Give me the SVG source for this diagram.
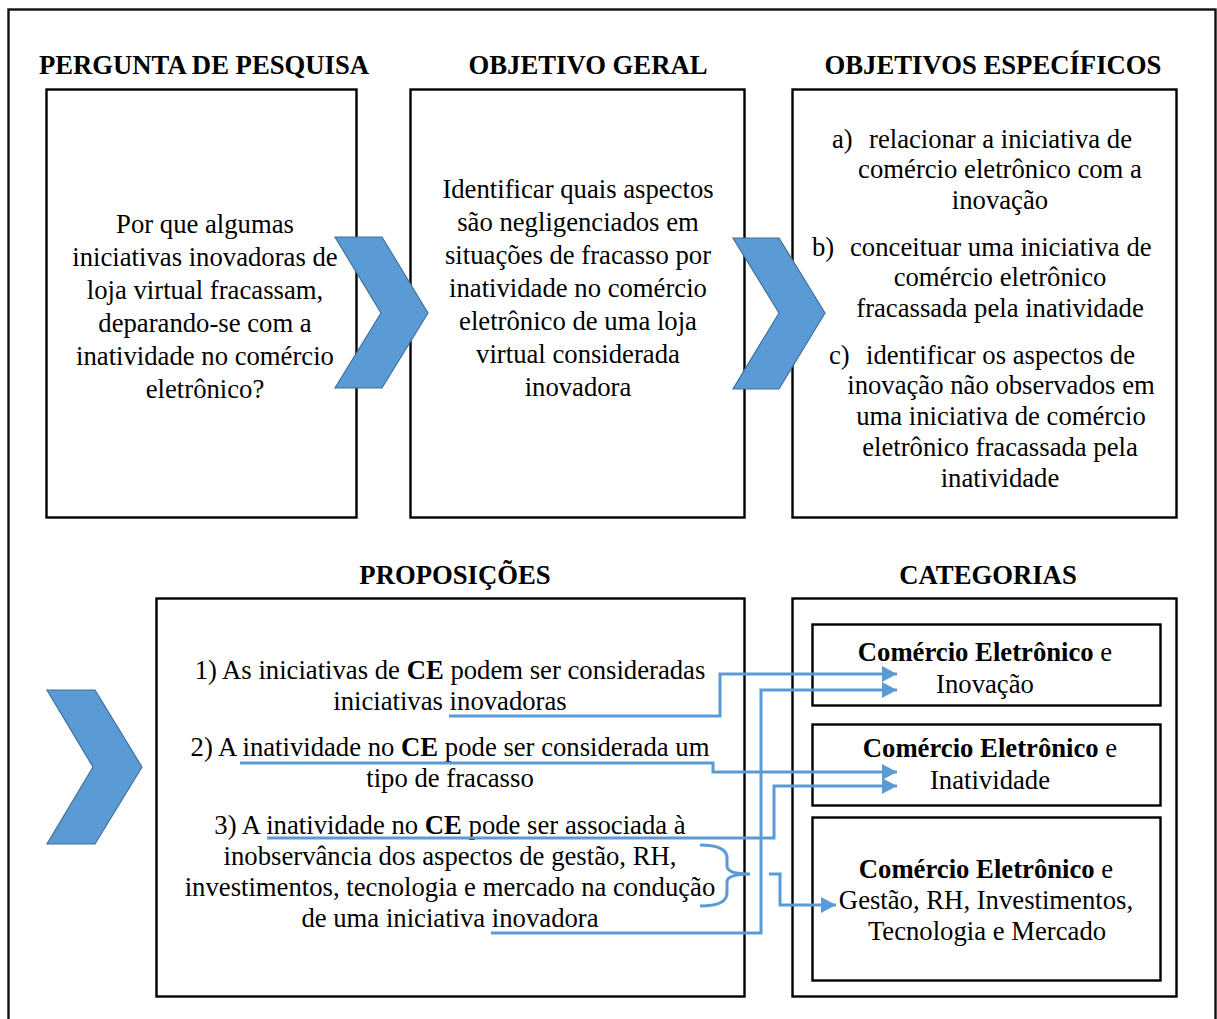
<svg xmlns="http://www.w3.org/2000/svg" width="1217" height="1019" viewBox="0 0 1217 1019">
<defs>
<style>
.box{fill:#fff;stroke:#000;stroke-width:2.4}
.outer{fill:#fff;stroke:#111;stroke-width:2.4}
.t{font-family:"Liberation Serif","Times New Roman",serif;font-size:26.7px;fill:#000}
.c{text-anchor:middle}
.h{font-weight:bold}
.chev{fill:#5B9BD5;stroke:#41719C;stroke-width:1.2}
.con{fill:none;stroke:#5B9BD5;stroke-width:3}
</style>
<marker id="ah" markerUnits="userSpaceOnUse" markerWidth="16" markerHeight="18" refX="15" refY="9" orient="auto">
<path d="M0,1 L15,9 L0,17 Z" fill="#5B9BD5"/>
</marker>
</defs>
<rect class="outer" x="8.5" y="9.5" width="1207" height="1030"/>

<g id="titles">
<text class="t c h" x="204" y="74">PERGUNTA DE PESQUISA</text>
<text class="t c h" x="588" y="74">OBJETIVO GERAL</text>
<text class="t c h" x="993" y="74">OBJETIVOS ESPECÍFICOS</text>
<text class="t c h" x="455" y="584">PROPOSIÇÕES</text>
<text class="t c h" x="988" y="584">CATEGORIAS</text>
</g>

<g id="pergunta">
<rect class="box" x="46.5" y="89.5" width="310" height="428"/>
<text class="t c" x="205" y="233">Por que algumas</text>
<text class="t c" x="205" y="266">iniciativas inovadoras de</text>
<text class="t c" x="205" y="299">loja virtual fracassam,</text>
<text class="t c" x="205" y="332">deparando-se com a</text>
<text class="t c" x="205" y="365">inatividade no comércio</text>
<text class="t c" x="205" y="398">eletrônico?</text>
</g>

<g id="objetivo-geral">
<rect class="box" x="410.5" y="89.5" width="334" height="428"/>
<text class="t c" x="578" y="198">Identificar quais aspectos</text>
<text class="t c" x="578" y="231">são negligenciados em</text>
<text class="t c" x="578" y="264">situações de fracasso por</text>
<text class="t c" x="578" y="297">inatividade no comércio</text>
<text class="t c" x="578" y="330">eletrônico de uma loja</text>
<text class="t c" x="578" y="363">virtual considerada</text>
<text class="t c" x="578" y="396">inovadora</text>
</g>

<g id="objetivos-especificos">
<rect class="box" x="792.5" y="89.5" width="384" height="428"/>
<text class="t" x="832" y="148">a)</text>
<text class="t" x="869" y="148">relacionar a iniciativa de</text>
<text class="t c" x="1000" y="178">comércio eletrônico com a</text>
<text class="t c" x="1000" y="209">inovação</text>
<text class="t" x="812" y="256">b)</text>
<text class="t" x="850" y="256">conceituar uma iniciativa de</text>
<text class="t c" x="1000" y="286">comércio eletrônico</text>
<text class="t c" x="1000" y="317">fracassada pela inatividade</text>
<text class="t" x="829" y="364">c)</text>
<text class="t" x="866" y="364">identificar os aspectos de</text>
<text class="t c" x="1001" y="394">inovação não observados em</text>
<text class="t c" x="1001" y="425">uma iniciativa de comércio</text>
<text class="t c" x="1000" y="456">eletrônico fracassada pela</text>
<text class="t c" x="1000" y="487">inatividade</text>
</g>

<g id="proposicoes">
<rect class="box" x="156.5" y="598.5" width="588" height="398"/>
<text class="t c" x="450" y="679">1) As iniciativas de <tspan class="h">CE</tspan> podem ser consideradas</text>
<text class="t c" x="450" y="710">iniciativas inovadoras</text>
<text class="t c" x="450" y="756">2) A inatividade no <tspan class="h">CE</tspan> pode ser considerada um</text>
<text class="t c" x="450" y="787">tipo de fracasso</text>
<text class="t c" x="450" y="834">3) A inatividade no <tspan class="h">CE</tspan> pode ser associada à</text>
<text class="t c" x="450" y="865">inobservância dos aspectos de gestão, RH,</text>
<text class="t c" x="450" y="896">investimentos, tecnologia e mercado na condução</text>
<text class="t c" x="450" y="927">de uma iniciativa inovadora</text>
</g>

<g id="categorias">
<rect class="box" x="792.5" y="598.5" width="384" height="398"/>
</g>
<g id="cat-inovacao">
<rect class="box" x="812.5" y="624.5" width="348" height="81"/>
<text class="t c" x="985" y="661"><tspan class="h">Comércio Eletrônico</tspan> e</text>
<text class="t c" x="985" y="693">Inovação</text>
</g>
<g id="cat-inatividade">
<rect class="box" x="812.5" y="724.5" width="348" height="81"/>
<text class="t c" x="990" y="757"><tspan class="h">Comércio Eletrônico</tspan> e</text>
<text class="t c" x="990" y="789">Inatividade</text>
</g>
<g id="cat-gestao">
<rect class="box" x="812.5" y="817.5" width="348" height="163"/>
<text class="t c" x="986" y="878"><tspan class="h">Comércio Eletrônico</tspan> e</text>
<text class="t c" x="986" y="909">Gestão, RH, Investimentos,</text>
<text class="t c" x="987" y="940">Tecnologia e Mercado</text>
</g>

<g id="chevrons">
<polygon class="chev" points="335,237 382,237 428,313 382,388 335,388 381,313"/>
<polygon class="chev" points="733,238 779,238 825,313 779,389 733,389 779,313"/>
<polygon class="chev" points="47,690 95,690 142,767 95,844 47,844 93,767"/>
</g>

<g id="connectors">
<path class="con" d="M449,716 H720 V674 H897" marker-end="url(#ah)"/>
<path class="con" d="M491,933 H761 V690 H897" marker-end="url(#ah)"/>
<path class="con" d="M240,763 H713 V772 H897" marker-end="url(#ah)"/>
<path class="con" d="M267,838 H774 V786 H897" marker-end="url(#ah)"/>
<path class="con" d="M700,845 Q727,845 727,858 V866 Q727,874 750,874 Q727,874 727,882 V893 Q727,906 700,906"/>
<path class="con" d="M769,874 H780 V905 H836" marker-end="url(#ah)"/>
</g>
</svg>
